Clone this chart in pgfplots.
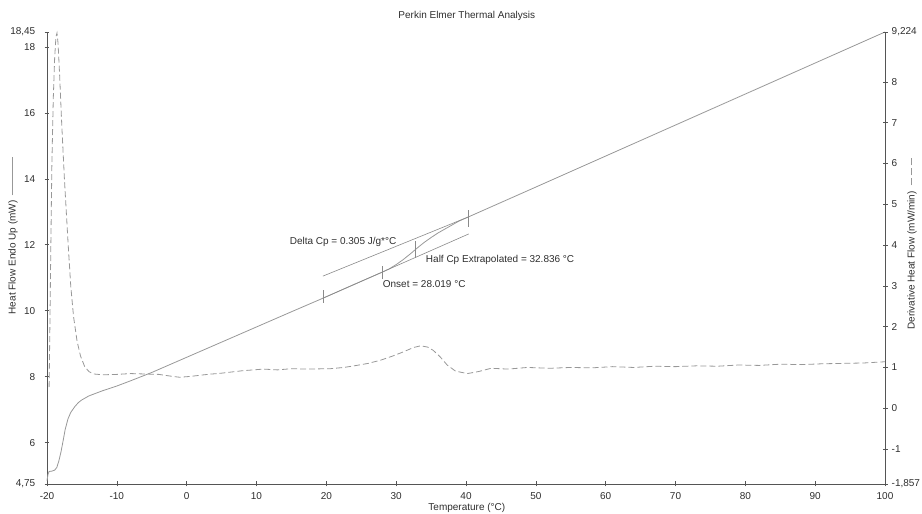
\documentclass[border=0pt]{standalone}
\usepackage{pgfplots}
\pgfplotsset{compat=1.18}
\usepackage{fontspec}
\setmainfont{Liberation Sans}
\definecolor{txt}{HTML}{2E2E2E}
\definecolor{axc}{HTML}{555555}
\definecolor{crv}{HTML}{989898}
\definecolor{ann}{HTML}{8A8A8A}
\begin{document}
\begin{tikzpicture}
\pgfplotsset{
  every axis/.append style={font=\fontsize{10}{12}\selectfont},
  every tick label/.append style={text=txt},
}
\begin{axis}[
  scale only axis, width=838pt, height=452pt,
  xmin=-20, xmax=100, ymin=4.75, ymax=18.45,
  axis x line*=bottom, axis y line*=left,
  x axis line style={-, axc, line width=0.7pt},
  y axis line style={-, axc, line width=0.7pt},
  xtick={-20,-10,0,10,20,30,40,50,60,70,80,90,100},
  xticklabels={-20,-10,0,10,20,30,40,50,60,70,80,90,100},
  ytick={4.75,6,8,10,12,14,16,18,18.45},
  yticklabels={{4,75},6,8,10,12,14,16,18,{18,45}},
  tick align=center, major tick length=5pt,
  tick style={axc, line width=0.6pt},
  xticklabel style={anchor=center, yshift=-9.5pt},
  yticklabel style={anchor=east, inner sep=1pt, xshift=-8pt},
  clip=false,
]
% heat flow (solid)
\addplot[crv, line width=0.8pt] coordinates {(-20,4.85) (-19.85,5.05) (-19.7,5.13) (-19.3,5.14) (-18.9,5.17) (-18.6,5.25) (-18.3,5.45) (-18.0,5.72) (-17.7,6.05) (-17.4,6.4) (-17.0,6.72) (-16.6,6.92) (-16.0,7.1) (-15.5,7.22) (-15,7.3) (-14,7.42) (-13,7.5) (-12,7.58) (-10,7.72) (-8,7.88) (-5,8.13) (0,8.59) (5,9.05) (10,9.51) (15,9.97) (19.5,10.38) (24,10.8) (28,11.17) (29,11.27) (30,11.40) (31,11.55) (32,11.72) (33,11.90) (34,12.07) (35,12.22) (36,12.36) (37,12.48) (38,12.6) (39,12.72) (40.4,12.85) (50,13.75) (60,14.69) (70,15.63) (80,16.57) (90,17.51) (100,18.45)};
% tangent lines
\addplot[ann, line width=0.6pt] coordinates {(19.5,11.05) (40.4,12.85)};
\addplot[ann, line width=0.6pt] coordinates {(19.5,10.38) (40.4,12.33)};
% markers
\addplot[ann, line width=0.6pt] coordinates {(19.5,10.25) (19.5,10.62)};
\addplot[ann, line width=0.6pt] coordinates {(28.0,10.95) (28.0,11.35)};
\addplot[ann, line width=0.6pt] coordinates {(32.8,11.6) (32.8,12.1)};
\addplot[ann, line width=0.6pt] coordinates {(40.4,12.55) (40.4,13.05)};
% annotation texts
\node[anchor=west, text=txt, inner sep=0pt] at (axis cs:14.74,12.1) {Delta Cp = 0.305 J/g*°C};
\node[anchor=west, text=txt, inner sep=0pt] at (axis cs:34.24,11.54) {Half Cp Extrapolated = 32.836 °C};
\node[anchor=west, text=txt, inner sep=0pt] at (axis cs:28.07,10.81) {Onset = 28.019 °C};
% title and labels
\node[text=txt] at ([yshift=16pt]rel axis cs:0.501,1) {Perkin Elmer Thermal Analysis};
\node[text=txt, inner sep=0pt] at ([yshift=-23.5pt]rel axis cs:0.501,0) {Temperature (°C)};
\node[text=txt, rotate=90] at ([xshift=-34pt]rel axis cs:0,0.549) {Heat Flow Endo Up (mW)\hspace{5pt}\textcolor{crv}{\rule[0.3em]{38pt}{0.7pt}}};
\end{axis}
\begin{axis}[
  scale only axis, width=838pt, height=452pt,
  xmin=-20, xmax=100, ymin=-1.857, ymax=9.224,
  axis x line=none, axis y line*=right,
  y axis line style={-, axc, line width=0.7pt},
  ytick={-1.857,-1,0,1,2,3,4,5,6,7,8,9.224},
  yticklabels={{-1,857},-1,0,1,2,3,4,5,6,7,8,{9,224}},
  tick align=center, major tick length=5pt,
  tick style={axc, line width=0.6pt},
  yticklabel style={anchor=west, inner sep=1pt, xshift=3pt},
  clip=false,
]
\addplot[crv, line width=0.8pt, dash pattern=on 6pt off 3pt] coordinates {(-19.7,0.52) (-19.6,1.8) (-19.45,4.0) (-19.3,6.0) (-19.1,7.6) (-18.9,8.6) (-18.72,9.1) (-18.57,9.2) (-18.42,8.95) (-18.2,8.2) (-17.9,7.0) (-17.5,5.6) (-17.0,4.1) (-16.6,3.0) (-16.2,2.25) (-15.7,1.65) (-15.2,1.28) (-14.6,1.02) (-14.0,0.9) (-13.3,0.84) (-12,0.82) (-10,0.83) (-8,0.85) (-6,0.84) (-4,0.83) (-2,0.78) (-1,0.76) (0.5,0.78) (3,0.83) (5,0.86) (8,0.92) (11,0.96) (13,0.94) (15,0.97) (17,0.96) (20.6,0.97) (22.5,1.0) (24,1.04) (26,1.1) (27.8,1.18) (29.5,1.28) (31,1.38) (32.5,1.49) (33.5,1.53) (34.5,1.5) (35.3,1.42) (36.3,1.26) (37.3,1.06) (38.5,0.91) (40.2,0.85) (41.8,0.9) (43.6,0.98) (46,0.96) (48.8,1.0) (52,0.98) (55,1.0) (58,0.99) (61,1.02) (64,1.0) (67,1.03) (70,1.02) (73,1.04) (76,1.03) (79,1.06) (82,1.05) (85,1.08) (88,1.07) (91,1.09) (94,1.1) (97,1.11) (100,1.14)};
\node[text=txt, rotate=90] at ([xshift=27pt]rel axis cs:1,0.531) {Derivative Heat Flow (mW/min)\hspace{6pt}\textcolor{crv}{\rule[0.3em]{7pt}{0.7pt}\hspace{3pt}\rule[0.3em]{7pt}{0.7pt}\hspace{3pt}\rule[0.3em]{7pt}{0.7pt}}};
\end{axis}
\pgfresetboundingbox
\useasboundingbox (-47pt,-30pt) rectangle (875pt,484pt);
\end{tikzpicture}
\end{document}
